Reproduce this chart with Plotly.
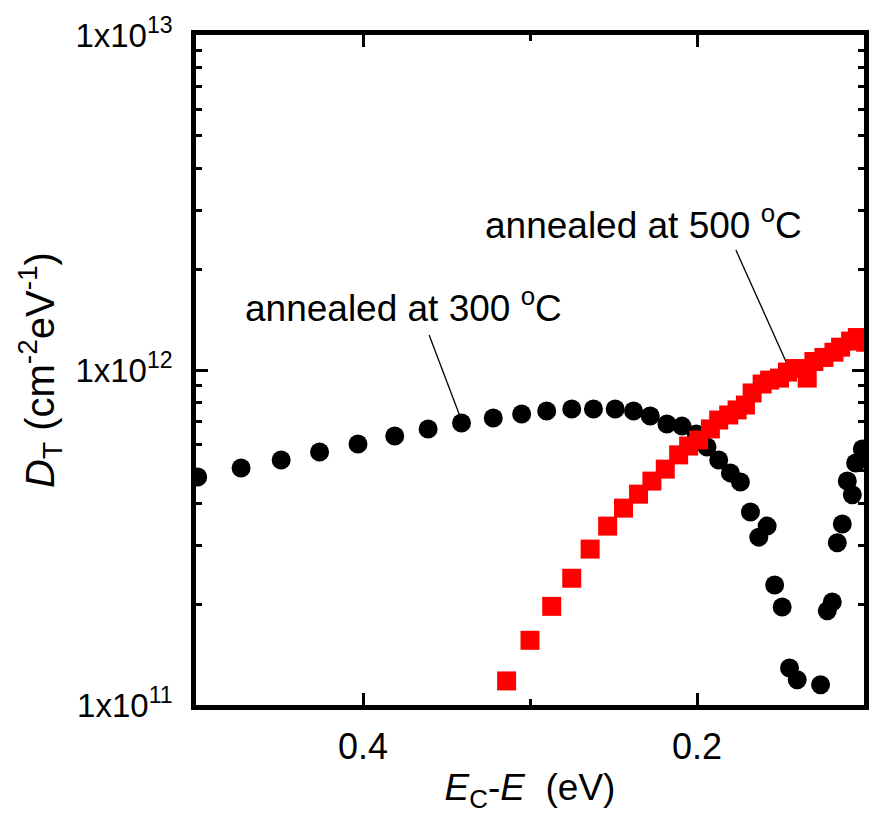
import plotly.graph_objects as go

# Trap density spectra D_T vs. energy below the conduction band edge
energy_300 = [0.499, 0.473, 0.449, 0.426, 0.403, 0.381, 0.361, 0.341, 0.322, 0.305,
              0.290, 0.275, 0.262, 0.249, 0.238, 0.228, 0.218, 0.209, 0.2005, 0.194,
              0.187, 0.180, 0.174, 0.168, 0.158, 0.163, 0.1535, 0.149, 0.1446, 0.140,
              0.126, 0.122, 0.119, 0.116, 0.113, 0.110, 0.107, 0.105, 0.101]
dt_300 = [4.79e11, 5.10e11, 5.39e11, 5.69e11, 6.01e11, 6.35e11, 6.67e11, 6.95e11, 7.19e11, 7.39e11,
          7.54e11, 7.65e11, 7.65e11, 7.65e11, 7.54e11, 7.29e11, 6.90e11, 6.80e11, 6.44e11, 5.89e11,
          5.39e11, 4.93e11, 4.63e11, 3.77e11, 3.42e11, 3.17e11, 2.28e11, 1.96e11, 1.29e11, 1.19e11,
          1.15e11, 1.91e11, 2.03e11, 3.05e11, 3.47e11, 4.66e11, 4.24e11, 5.28e11, 5.81e11]

energy_500 = [0.314, 0.300, 0.287, 0.275, 0.264, 0.2535, 0.244, 0.235, 0.227, 0.219,
              0.211, 0.205, 0.199, 0.192, 0.187, 0.181, 0.176, 0.171, 0.167, 0.161,
              0.1565, 0.1506, 0.1458, 0.141, 0.134, 0.130, 0.124, 0.118, 0.114, 0.108,
              0.104, 0.099]
dt_500 = [1.18e11, 1.56e11, 1.97e11, 2.39e11, 2.92e11, 3.42e11, 3.87e11, 4.26e11, 4.66e11, 5.06e11,
          5.58e11, 5.93e11, 6.18e11, 6.67e11, 7.09e11, 7.34e11, 7.60e11, 7.86e11, 8.54e11, 9.08e11,
          9.33e11, 9.46e11, 9.86e11, 1.01e12, 9.46e11, 1.06e12, 1.09e12, 1.13e12, 1.17e12, 1.22e12,
          1.25e12, 1.21e12]

# Leader lines from the labels to the curves
leader_300_x = [0.3604, 0.3420]
leader_300_y = [1.272e12, 7.29e11]
leader_500_x = [0.1767, 0.1458]
leader_500_y = [2.28e12, 1.035e12]

y_tickvals = [1e11, 1e12, 1e13]
y_ticktext = ["1x10<sup>11</sup>", "1x10<sup>12</sup>", "1x10<sup>13</sup>"]
y_minor = [m * 10 ** e for e in (11, 12) for m in range(2, 10)]

FONT = "Liberation Sans, Arial, sans-serif"

fig = go.Figure()

fig.add_trace(go.Scatter(x=leader_300_x, y=leader_300_y, mode="lines",
                         line=dict(color="black", width=1.3), hoverinfo="skip"))
fig.add_trace(go.Scatter(x=leader_500_x, y=leader_500_y, mode="lines",
                         line=dict(color="black", width=1.3), hoverinfo="skip"))

fig.add_trace(go.Scatter(x=energy_300, y=dt_300, mode="markers", name="300 °C",
                         marker=dict(symbol="circle", size=19, color="black")))
fig.add_trace(go.Scatter(x=energy_500, y=dt_500, mode="markers", name="500 °C",
                         marker=dict(symbol="square", size=19, color="#ff0000")))

fig.add_annotation(x=0.472, y=12.194, xref="x", yref="y", xanchor="left", yanchor="middle",
                   text="annealed at 300 <sup>o</sup>C", showarrow=False,
                   font=dict(family=FONT, size=37, color="black"))
fig.add_annotation(x=0.3283, y=12.4418, xref="x", yref="y", xanchor="left", yanchor="middle",
                   text="annealed at 500 <sup>o</sup>C", showarrow=False,
                   font=dict(family=FONT, size=37, color="black"))

fig.update_layout(
    width=872, height=829,
    margin=dict(l=196, r=3, t=35, b=124),
    paper_bgcolor="white", plot_bgcolor="white",
    showlegend=False,
    font=dict(family=FONT, color="black"),
)

fig.update_xaxes(
    range=[0.5, 0.1],
    tickmode="array", tickvals=[0.4, 0.2], ticktext=["0.4", "0.2"],
    ticks="inside", ticklen=12, tickwidth=3, tickcolor="black",
    minor=dict(tickmode="array", tickvals=[0.3], ticks="inside", ticklen=6, tickwidth=3, tickcolor="black"),
    showline=True, linewidth=4.5, linecolor="black", mirror="ticks",
    showgrid=False, zeroline=False,
    tickfont=dict(family=FONT, size=36), ticklabelstandoff=6,
    title=dict(text="<i>E</i><sub>C</sub>-<i>E</i>\u00a0 (eV)", font=dict(family=FONT, size=37), standoff=10),
)

fig.update_yaxes(
    type="log", range=[11, 13],
    tickmode="array", tickvals=y_tickvals, ticktext=y_ticktext,
    ticks="inside", ticklen=12, tickwidth=3, tickcolor="black",
    minor=dict(tickmode="array", tickvals=y_minor, ticks="inside", ticklen=6, tickwidth=3, tickcolor="black"),
    showline=True, linewidth=4.5, linecolor="black", mirror="ticks",
    showgrid=False, zeroline=False,
    tickfont=dict(family=FONT, size=33), ticklabelstandoff=12,
    title=dict(text="<i>D</i><sub>T</sub> (cm<sup>-2</sup>eV<sup>-1</sup>)", font=dict(family=FONT, size=40), standoff=10),
)

fig.write_html("out.html")
